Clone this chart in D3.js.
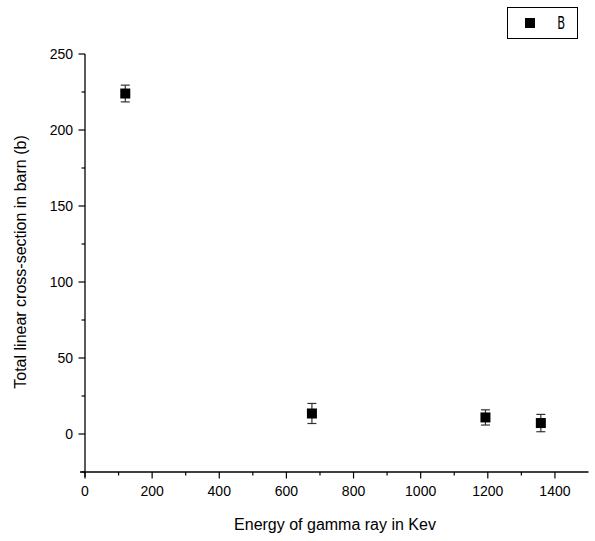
<!DOCTYPE html>
<html>
<head>
<meta charset="utf-8">
<script src="https://cdn.jsdelivr.net/npm/d3@7"></script>
<style>
  body { margin: 0; background: #fff; }
  text { font-family: "Liberation Sans", Arial, sans-serif; }
</style>
</head>
<body>
<div id="chart"></div>
<script>
// values
let energy = [120, 676, 1193, 1358],
    crossSection = [224, 13.5, 10.9, 7.2],
    errors = [5.5, 6.6, 5, 5.7];
let xTicks = [0, 200, 400, 600, 800, 1000, 1200, 1400],
    yTicks = [0, 50, 100, 150, 200, 250];
let seriesName = "B";

let width = 595, height = 541;

let svg = d3.select("#chart")
    .append("svg")
    .attr("width", width)
    .attr("height", height);

let x = d3.scaleLinear().domain([0, 1500]).range([85, 588.5]);
let y = d3.scaleLinear().domain([-25, 250]).range([472, 54]);

// x axis (major + minor ticks)
let xAxis = svg.append("g").attr("transform", "translate(0," + y(-25) + ")");
xAxis.append("line")
    .attr("x1", 80).attr("x2", x(1500))
    .attr("stroke", "#000").attr("stroke-width", 1.3);
xAxis.selectAll(".minor")
    .data(d3.range(100, 1500, 200))
    .enter().append("line")
    .attr("x1", d => x(d)).attr("x2", d => x(d))
    .attr("y1", 0).attr("y2", 3.5)
    .attr("stroke", "#000").attr("stroke-width", 1.2);
xAxis.selectAll(".major")
    .data(xTicks)
    .enter().append("line")
    .attr("x1", d => x(d)).attr("x2", d => x(d))
    .attr("y1", 0).attr("y2", 6.5)
    .attr("stroke", "#000").attr("stroke-width", 1.2);
xAxis.selectAll("text")
    .data(xTicks)
    .enter().append("text")
    .attr("x", d => x(d))
    .attr("y", 24)
    .attr("text-anchor", "middle")
    .style("font-size", "14px")
    .text(d => d);

// y axis
let yAxis = svg.append("g").attr("transform", "translate(" + x(0) + ",0)");
yAxis.append("line")
    .attr("y1", y(250)).attr("y2", y(-25) + 5)
    .attr("stroke", "#000").attr("stroke-width", 1.3);
yAxis.selectAll(".minor")
    .data(d3.range(-25, 250, 50))
    .enter().append("line")
    .attr("y1", d => y(d)).attr("y2", d => y(d))
    .attr("x1", 0).attr("x2", -3.5)
    .attr("stroke", "#000").attr("stroke-width", 1.2);
yAxis.selectAll(".major")
    .data(yTicks)
    .enter().append("line")
    .attr("y1", d => y(d)).attr("y2", d => y(d))
    .attr("x1", 0).attr("x2", -6.5)
    .attr("stroke", "#000").attr("stroke-width", 1.2);
yAxis.selectAll("text")
    .data(yTicks)
    .enter().append("text")
    .attr("x", -12)
    .attr("y", d => y(d))
    .attr("dy", "0.35em")
    .attr("text-anchor", "end")
    .style("font-size", "14px")
    .text(d => d);

// axis titles
svg.append("text")
    .attr("x", 335)
    .attr("y", 530)
    .attr("text-anchor", "middle")
    .style("font-size", "16px")
    .text("Energy of gamma ray in Kev");

svg.append("text")
    .attr("transform", "translate(26," + 262 + ") rotate(-90)")
    .attr("text-anchor", "middle")
    .style("font-size", "16px")
    .text("Total linear cross-section in barn (b)");

// error bars
let pts = svg.append("g").selectAll("g")
    .data(energy.map((e, i) => ({e: e, v: crossSection[i], err: errors[i]})))
    .enter().append("g");

pts.append("line")
    .attr("x1", d => x(d.e)).attr("x2", d => x(d.e))
    .attr("y1", d => y(d.v + d.err)).attr("y2", d => y(d.v - d.err))
    .attr("stroke", "#333").attr("stroke-width", 1.2);
pts.selectAll(".cap")
    .data(d => [d.v + d.err, d.v - d.err].map(v => ({e: d.e, v: v})))
    .enter().append("line")
    .attr("x1", d => x(d.e) - 4.5).attr("x2", d => x(d.e) + 4.5)
    .attr("y1", d => y(d.v)).attr("y2", d => y(d.v))
    .attr("stroke", "#333").attr("stroke-width", 1.2);
pts.append("rect")
    .attr("x", d => x(d.e) - 5)
    .attr("y", d => y(d.v) - 5)
    .attr("width", 10)
    .attr("height", 10)
    .attr("fill", "#000");

// legend
let legend = svg.append("g");
legend.append("rect")
    .attr("x", 507.5).attr("y", 7.5)
    .attr("width", 70).attr("height", 31)
    .attr("fill", "#fff").attr("stroke", "#000").attr("stroke-width", 1);
legend.append("rect")
    .attr("x", 525).attr("y", 18)
    .attr("width", 10).attr("height", 10)
    .attr("fill", "#000");
legend.append("text")
    .attr("x", 556)
    .attr("y", 23)
    .attr("dy", "0.35em")
    .style("font-family", "'DejaVu Sans Condensed', sans-serif")
    .style("font-size", "17px")
    .style("transform-box", "fill-box")
    .style("transform-origin", "center")
    .style("transform", "scaleX(0.75)")
    .text(seriesName);
</script>
</body>
</html>
